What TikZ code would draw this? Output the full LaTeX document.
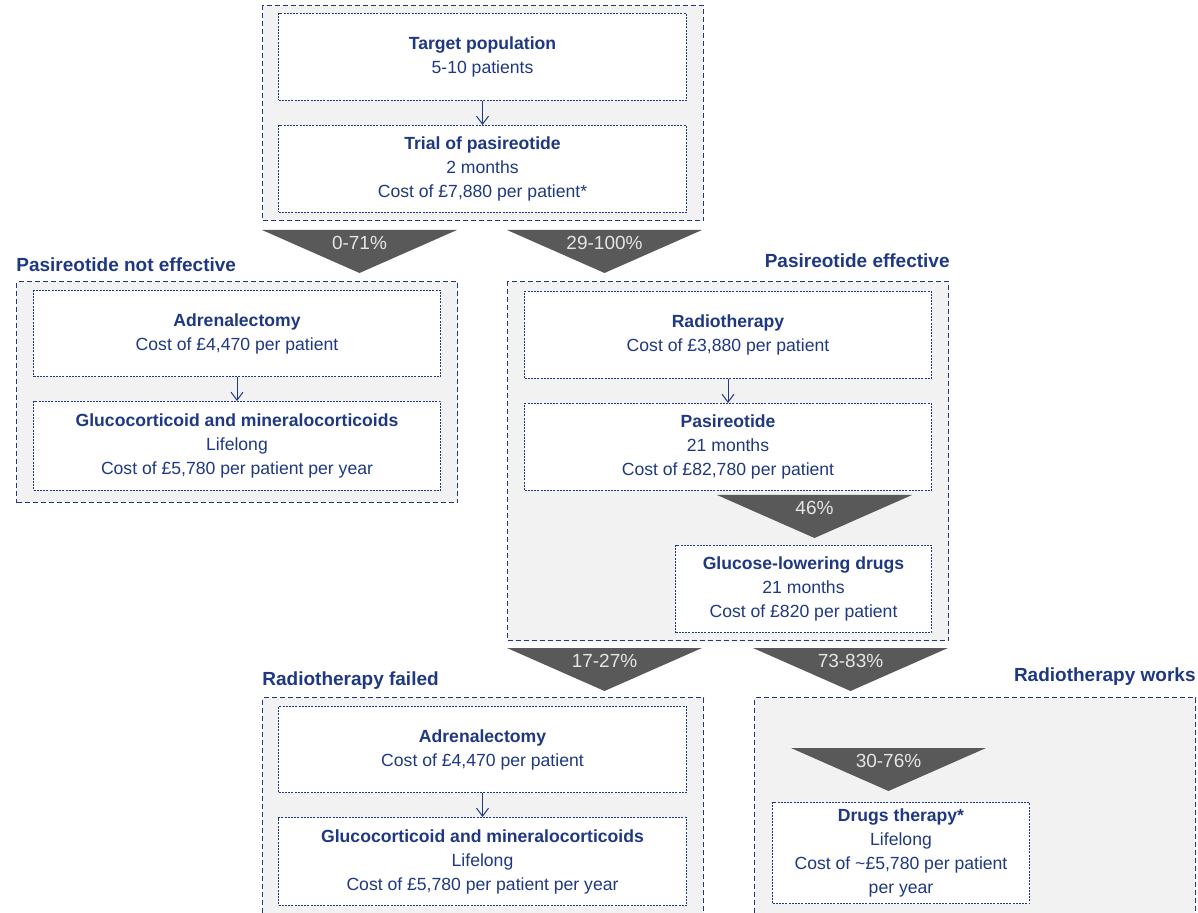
\documentclass[tikz,border=0pt]{standalone}
\usepackage{fontspec}
\setmainfont{Liberation Sans}
\usetikzlibrary{positioning}
\usetikzlibrary{arrows.meta}

\definecolor{dkblue}{HTML}{1F3882}
\definecolor{chevgray}{HTML}{595959}
\definecolor{panelgray}{HTML}{F2F2F2}

\tikzset{
  panel/.style={rectangle, draw=dkblue, line width=0.6pt, dash pattern=on 2.5pt off 1.5pt,
    fill=panelgray, anchor=north west, inner sep=0pt, minimum width=220.5pt},
  box/.style={rectangle, draw=dkblue, line width=0.5pt, dash pattern=on 1pt off 0.6pt,
    fill=white, anchor=north west, align=center, text=dkblue, inner sep=0pt,
    font=\fontsize{8.8}{12}\selectfont},
  hdr/.style={text=dkblue, inner sep=0pt, font=\fontsize{9.5}{11}\selectfont\bfseries},
  chevtxt/.style={text=white!90!black, inner sep=0pt, font=\fontsize{9.5}{11}\selectfont},
  conn/.style={draw=dkblue, line width=0.5pt, -{Straight Barb[length=4pt,width=6pt]}}
}

% grey down-pointing chevron: name, top-left x, top-left y, label
\newcommand{\chev}[4]{%
  \fill[chevgray] (#2,#3) -- ++(195,0) -- ++(-97.5,43) -- cycle;
  \node[chevtxt] (#1) at (#2+97.5,#3+13) {#4};}

\begin{document}
\begin{tikzpicture}[x=0.5pt,y=-0.5pt]
    \useasboundingbox (0,0) rectangle (1198,913);
    \clip (0,0) rectangle (1198,913);
    % panels
    \node[panel, minimum height=107.5pt] (ptop) at (262,5) {};
    \node[panel, minimum height=110.5pt] (pleft) at (16,281) {};
    \node[panel, minimum height=179.5pt] (pright) at (507,281) {};
    \node[panel, minimum height=130pt] (pfail) at (262,697) {};
    \node[panel, minimum height=130pt] (pworks) at (754,697) {};
    % top
    \node[box, minimum width=204pt, minimum height=43.5pt] (target) at (278,13)
        {\textbf{Target population}\\5-10 patients};
    \node[box, anchor=north, minimum width=204pt, minimum height=43.5pt] (trial) [below=12pt of target]
        {\textbf{Trial of pasireotide}\\2 months\\Cost of £7,880 per patient*};
    \path[conn] (target) -- (trial);
    \chev{c1}{262}{230}{0-71\%}
    \chev{c2}{507}{230}{29-100\%}
    % pasireotide not effective
    \node[hdr, anchor=west] (hleft) at (16,265) {Pasireotide not effective};
    \node[box, minimum width=203.5pt, minimum height=43pt] (adrL) at (33,290)
        {\textbf{Adrenalectomy}\\Cost of £4,470 per patient};
    \node[box, anchor=north, minimum width=203.5pt, minimum height=44.5pt] (glucoL) [below=12pt of adrL]
        {\textbf{Glucocorticoid and mineralocorticoids}\\Lifelong\\Cost of £5,780 per patient per year};
    \path[conn] (adrL) -- (glucoL);
    % pasireotide effective
    \node[hdr, anchor=east] (hright) at (950,261) {Pasireotide effective};
    \node[box, minimum width=203.5pt, minimum height=43.5pt] (radio) at (524,291)
        {\textbf{Radiotherapy}\\Cost of £3,880 per patient};
    \node[box, anchor=north, minimum width=203.5pt, minimum height=43.5pt] (pasi) [below=12pt of radio]
        {\textbf{Pasireotide}\\21 months\\Cost of £82,780 per patient};
    \path[conn] (radio) -- (pasi);
    \chev{c3}{717}{495}{46\%}
    \node[box, minimum width=128pt, minimum height=43.5pt] (glow) at (675,545)
        {\textbf{Glucose-lowering drugs}\\21 months\\Cost of £820 per patient};
    \chev{c4}{507}{648}{17-27\%}
    \chev{c5}{753}{648}{73-83\%}
    % radiotherapy failed
    \node[hdr, anchor=west] (hfail) at (262,681) {Radiotherapy failed};
    \node[box, minimum width=204pt, minimum height=43pt] (adrF) at (278,706)
        {\textbf{Adrenalectomy}\\Cost of £4,470 per patient};
    \node[box, anchor=north, minimum width=204pt, minimum height=44pt] (glucoF) [below=12pt of adrF]
        {\textbf{Glucocorticoid and mineralocorticoids}\\Lifelong\\Cost of £5,780 per patient per year};
    \path[conn] (adrF) -- (glucoF);
    % radiotherapy works
    \node[hdr, anchor=east] (hworks) at (1196,677) {Radiotherapy works};
    \chev{c6}{791}{748}{30-76\%}
    \node[box, minimum width=128.5pt, minimum height=50.5pt] (drugs) at (772,802)
        {\textbf{Drugs therapy*}\\Lifelong\\Cost of \textasciitilde£5,780 per patient\\per year};
\end{tikzpicture}
\end{document}
